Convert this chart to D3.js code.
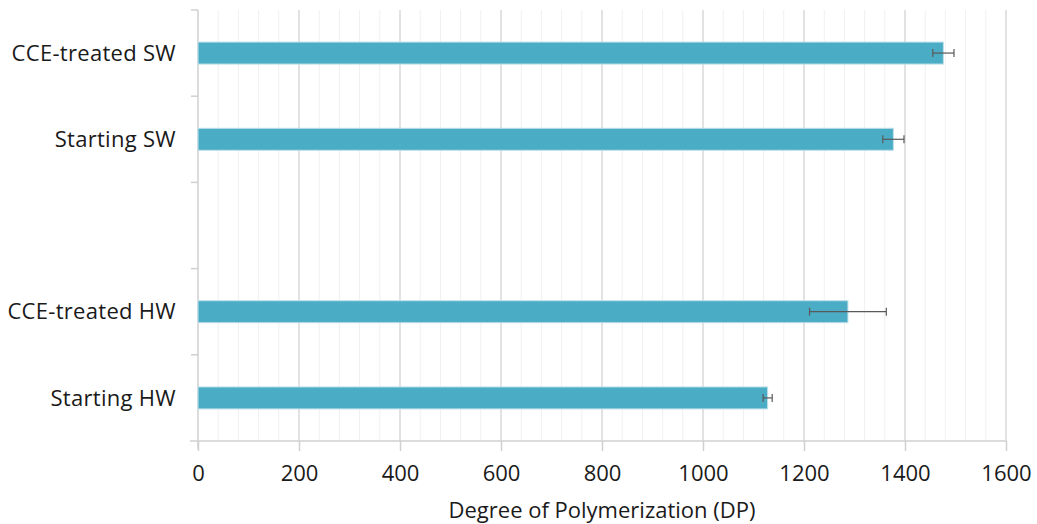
<!DOCTYPE html>
<html lang="en">
  <head>
    <meta charset="UTF-8" />
    <title>Degree of Polymerization</title>
    <style>
      body { margin: 0; background: #fff; }
      text { font-family: "Open Sans", "Noto Sans", sans-serif; fill: #1a1a1a; }
      .bar { fill: #4bacc6; stroke: #bfe0ea; stroke-width: 1px; }
      .err { stroke: #595959; stroke-width: 1.2px; }
      .grid-major { stroke: #d9d9d9; stroke-width: 1.5px; }
      .grid-minor { stroke: #f0f0f0; stroke-width: 1px; }
      .axis-line { stroke: #d0d0d0; stroke-width: 1.5px; }
    </style>
  </head>
  <body>
    <script src="https://cdn.jsdelivr.net/npm/d3@7"></script>
    <script>

      // categories top to bottom; the empty slot is a gap between SW and HW
      var categories = ["CCE-treated SW", "Starting SW", "", "CCE-treated HW", "Starting HW"];
      var dpValues   = [1476, 1377, null, 1287, 1128];
      var dpErrors   = [21, 21, null, 76, 9];
      var xTicks     = [0, 200, 400, 600, 800, 1000, 1200, 1400, 1600];

      var w = 1037, h = 524;
      var margin = { top: 10, right: 31, bottom: 83, left: 198 };
      var innerW = w - margin.left - margin.right,
          innerH = h - margin.top - margin.bottom;

      var svg = d3.select("body").append("svg")
        .attr("width", w)
        .attr("height", h);

      var g = svg.append("g")
        .attr("transform", "translate(" + margin.left + "," + margin.top + ")");

      var xScale = d3.scaleLinear().domain([0, 1600]).range([0, innerW]);

      var yScale = d3.scaleBand()
        .domain(d3.range(categories.length))
        .range([0, innerH])
        .paddingInner(0.745)
        .paddingOuter(0.372);

      // minor + major gridlines
      var minor = d3.range(0, 1601, 40).filter(function(v) { return v % 200 !== 0; });
      g.selectAll(".grid-minor").data(minor).enter().append("line")
        .attr("class", "grid-minor")
        .attr("x1", function(d) { return xScale(d); })
        .attr("x2", function(d) { return xScale(d); })
        .attr("y1", 0).attr("y2", innerH);

      g.selectAll(".grid-major").data(xTicks.slice(1)).enter().append("line")
        .attr("class", "grid-major")
        .attr("x1", function(d) { return xScale(d); })
        .attr("x2", function(d) { return xScale(d); })
        .attr("y1", 0).attr("y2", innerH);

      // x axis
      var xAxis = d3.axisBottom(xScale)
        .tickValues(xTicks)
        .tickFormat(d3.format("d"))
        .tickSize(10)
        .tickPadding(14);
      var xg = g.append("g")
        .attr("transform", "translate(0," + innerH + ")")
        .call(xAxis);
      xg.select(".domain").attr("class", "axis-line").attr("d", "M-8,0H" + innerW);
      xg.selectAll(".tick line").attr("stroke", "#d0d0d0").attr("stroke-width", 1.5);
      xg.selectAll(".tick text")
        .attr("font-size", 22)
        .attr("font-family", "'Open Sans', sans-serif")
        .attr("fill", "#1a1a1a");

      // y axis: line with ticks at band boundaries
      var step = innerH / categories.length;
      g.append("line").attr("class", "axis-line")
        .attr("x1", 0).attr("x2", 0).attr("y1", 0).attr("y2", innerH + 8);
      g.selectAll(".ytick").data(d3.range(categories.length)).enter().append("line")
        .attr("class", "axis-line")
        .attr("x1", -7).attr("x2", 0)
        .attr("y1", function(d) { return d * step; })
        .attr("y2", function(d) { return d * step; });

      g.selectAll(".ylabel").data(categories).enter().append("text")
        .attr("x", -22)
        .attr("y", function(d, i) { return yScale(i) + yScale.bandwidth() / 2; })
        .attr("dy", "0.35em")
        .attr("text-anchor", "end")
        .attr("font-size", 22)
        .attr("letter-spacing", 0.3)
        .text(function(d) { return d; });

      // bars
      var rows = categories.map(function(c, i) {
        return { i: i, cat: c, v: dpValues[i], e: dpErrors[i] };
      }).filter(function(d) { return d.v !== null; });

      g.selectAll(".bar").data(rows).enter().append("rect")
        .attr("class", "bar")
        .attr("x", xScale(0))
        .attr("y", function(d) { return yScale(d.i); })
        .attr("width", function(d) { return xScale(d.v) - xScale(0); })
        .attr("height", yScale.bandwidth());

      // error bars
      var eb = g.selectAll(".errbar").data(rows).enter().append("g");
      eb.append("line").attr("class", "err")
        .attr("x1", function(d) { return xScale(d.v - d.e); })
        .attr("x2", function(d) { return xScale(d.v + d.e); })
        .attr("y1", function(d) { return yScale(d.i) + yScale.bandwidth() / 2; })
        .attr("y2", function(d) { return yScale(d.i) + yScale.bandwidth() / 2; });
      [-1, 1].forEach(function(s) {
        eb.append("line").attr("class", "err")
          .attr("x1", function(d) { return xScale(d.v + s * d.e); })
          .attr("x2", function(d) { return xScale(d.v + s * d.e); })
          .attr("y1", function(d) { return yScale(d.i) + yScale.bandwidth() / 2 - 4; })
          .attr("y2", function(d) { return yScale(d.i) + yScale.bandwidth() / 2 + 4; });
      });

      // axis title
      svg.append("text")
        .attr("x", margin.left + innerW / 2)
        .attr("y", 518)
        .attr("text-anchor", "middle")
        .attr("font-size", 22)
        .text("Degree of Polymerization (DP)");

    </script>
  </body>
</html>
